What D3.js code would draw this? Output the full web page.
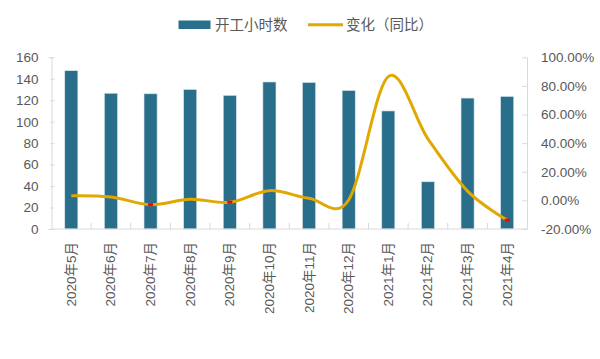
<!DOCTYPE html>
<html><head><meta charset="utf-8">
<script src="https://cdn.jsdelivr.net/npm/d3@7"></script>
<style>
html,body{margin:0;padding:0;background:#fff;}
svg text{font-family:"Liberation Sans","Noto Sans CJK SC",sans-serif;fill:#595959;}
</style></head>
<body><svg id="c" width="600" height="359"></svg>
<script>
const categories = ["2020年5月","2020年6月","2020年7月","2020年8月","2020年9月","2020年10月","2020年11月","2020年12月","2021年1月","2021年2月","2021年3月","2021年4月"];
const hours = [147.5, 126.5, 126, 130, 124.5, 137, 136.5, 129, 110, 44, 122, 123.5];
const yoy = [0.033, 0.024, -0.030, 0.008, -0.013, 0.068, 0.015, 0.003, 0.865, 0.43, 0.065, -0.138];
const markedIdx = [2, 4, 11];
const leftTicks = [0,20,40,60,80,100,120,140,160];
const rightTicks = [-0.2,0,0.2,0.4,0.6,0.8,1.0];
const seriesNames = ["开工小时数","变化（同比）"];

const svg = d3.select("#c");
const L = 51.5, R = 527, T = 57.3, B = 229;
const x = d3.scaleBand().domain(categories).range([L, R]).paddingInner(0).paddingOuter(0);
const yL = d3.scaleLinear().domain([0,160]).range([B, T]);
const yR = d3.scaleLinear().domain([-0.2,1.0]).range([B, T]);
const barColor = "#296E8A", lineColor = "#E0A800", axisColor = "#D9D9D9";

// bars
const bw = x.bandwidth()*0.33;
svg.append("g").selectAll("rect").data(hours).join("rect")
  .attr("x",(d,i)=>x(categories[i])+x.bandwidth()/2-bw/2)
  .attr("y",d=>yL(d)).attr("width",bw).attr("height",d=>B-yL(d))
  .attr("fill",barColor).attr("stroke","#d6e4ea").attr("stroke-width",0.6);

// left axis
const gl = svg.append("g").attr("transform",`translate(${L},0)`)
  .call(d3.axisLeft(yL).tickValues(leftTicks).tickSize(3).tickPadding(10));
gl.select(".domain").attr("stroke",axisColor);
gl.selectAll(".tick line").attr("stroke",axisColor).attr("x2",3).attr("x1",-1);
gl.selectAll("text").attr("font-size",13.5).attr("fill","#595959");

// right axis
const gr = svg.append("g").attr("transform",`translate(${R},0)`)
  .call(d3.axisRight(yR).tickValues(rightTicks).tickSize(0).tickPadding(14).tickFormat(d=>(d*100).toFixed(2)+"%"));
gr.select(".domain").attr("stroke",axisColor);
gr.selectAll(".tick").append("line").attr("x1",-5).attr("x2",0).attr("stroke",axisColor);
gr.selectAll("text").attr("font-size",13.5).attr("fill","#595959");

// x axis
const gx = svg.append("g").attr("transform",`translate(0,${B})`);
gx.append("line").attr("x1",L).attr("x2",R).attr("stroke",axisColor);
gx.selectAll("line.tk").data(categories.slice(1)).join("line").attr("class","tk")
  .attr("x1",d=>x(d)).attr("x2",d=>x(d)).attr("y1",0).attr("y2",-6).attr("stroke",axisColor);
gx.selectAll("text").data(categories).join("text")
  .attr("transform",d=>`translate(${x(d)+x.bandwidth()/2+4.5},13) rotate(-90)`)
  .attr("text-anchor","end").attr("font-size",13.5).text(d=>d);

// line
const line = d3.line().x((d,i)=>x(categories[i])+x.bandwidth()/2).y(d=>yR(d)).curve(d3.curveCardinal.tension(0));
svg.append("path").datum(yoy).attr("d",line).attr("fill","none").attr("stroke",lineColor).attr("stroke-width",3).attr("stroke-linejoin","round");
svg.append("g").selectAll("rect").data(markedIdx).join("rect")
  .attr("x",i=>x(categories[i])+x.bandwidth()/2-2.5).attr("y",i=>yR(yoy[i])-1.5)
  .attr("width",5).attr("height",3).attr("fill","#FF0000");

// legend
const lg = svg.append("g");
lg.append("rect").attr("x",178.5).attr("y",20.5).attr("width",32).attr("height",8.5).attr("fill",barColor);
lg.append("text").attr("x",215).attr("y",30).attr("font-size",14.5).text(seriesNames[0]);
lg.append("line").attr("x1",308).attr("x2",343).attr("y1",24.8).attr("y2",24.8).attr("stroke",lineColor).attr("stroke-width",3);
lg.append("text").attr("x",346).attr("y",30).attr("font-size",14.5).text(seriesNames[1]);
</script></body></html>
